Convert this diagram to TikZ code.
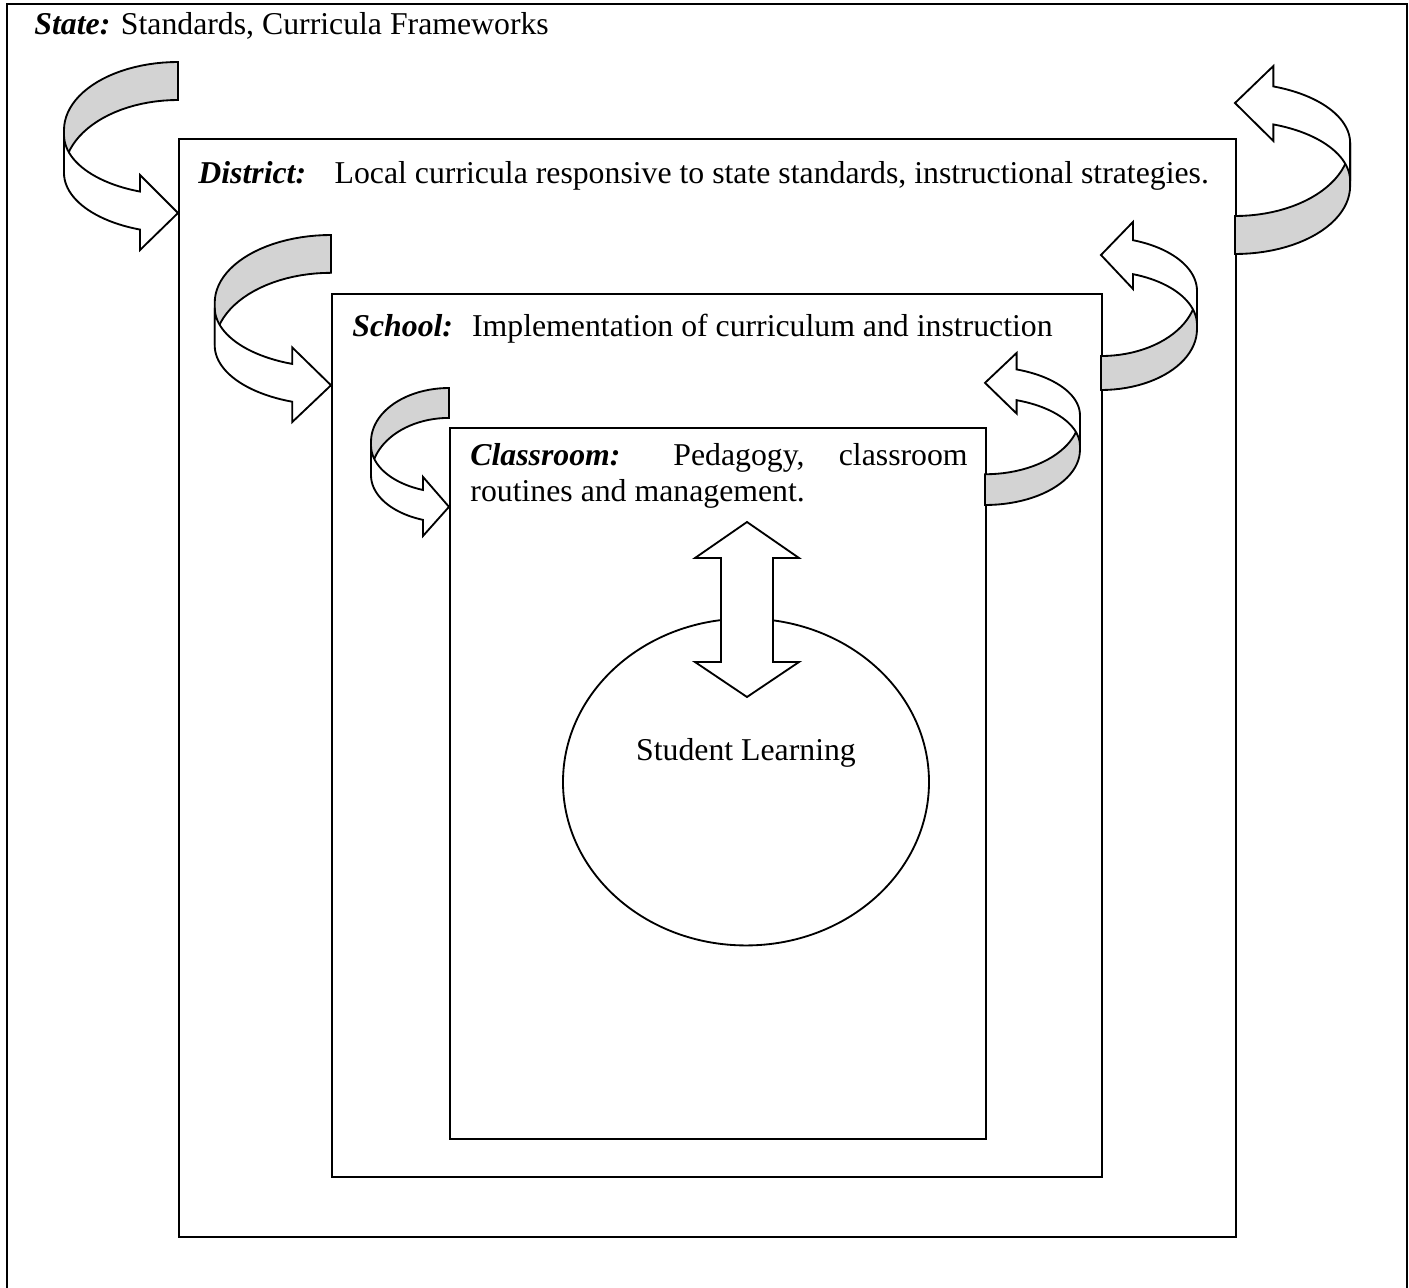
\documentclass[tikz,border=0pt]{standalone}
\usepackage{fontspec}
\setmainfont{Liberation Serif}
\usepackage{tikz}
\usetikzlibrary{shapes.geometric,positioning}
\definecolor{ribbongray}{HTML}{D3D3D3}

% curved ribbon arrow: #1 shift, #2 xscale, #3 yscale
\newcommand{\ribbonarrow}[3]{%
  \begin{scope}[shift={#1}, xscale=#2, yscale=#3]
    % back side of the ribbon
    \filldraw[ribbon, fill=ribbongray] (0,0)
      -- plot[domain=0:90] ({-114*sin(\x)}, {68-68*cos(\x)})
      -- (-114,111)
      -- plot[domain=0:90] ({-114*cos(\x)}, {111-73*sin(\x)})
      -- cycle;
    % front side with the head
    \filldraw[ribbon, fill=white] (-114,73)
      -- plot[domain=0:70.53] ({-114*cos(\x)}, {73+60*sin(\x)})
      -- (-38,113) -- (0,151) -- (-38,188)
      -- plot[domain=70.53:0] ({-114*cos(\x)}, {111+60*sin(\x)})
      -- cycle;
  \end{scope}}

\begin{document}
\begin{tikzpicture}[
  x=0.4344pt, y=-0.4344pt,
  levelbox/.style={draw, line width=0.8pt, anchor=north west, inner sep=0pt},
  ribbon/.style={draw=black, line width=0.8pt},
  lbl/.style={font=\fontsize{13.8pt}{15.6pt}\selectfont, inner sep=0pt, anchor=base west}
]
\useasboundingbox (0,0) rectangle (1409,1288);
% outer frame (state)
\draw[line width=1.1pt] (7,1290) -- (7,4) -- (1407,4) -- (1407,1290);
\node[lbl] (statelbl) at (34,35) {\textbf{\textit{State:}} Standards, Curricula Frameworks};

% nested levels
\node[levelbox, minimum width=459.2pt, minimum height=477pt] (district) at (178,138) {};
\node[levelbox, minimum width=334.5pt, minimum height=383.6pt] (school) at (331,293) {};
\node[levelbox, minimum width=232.8pt, minimum height=308.9pt] (classroom) at (449,427) {};

\node[lbl] (districtlbl) at (198,183) {\textbf{\textit{District:}}\hspace{0.9em}Local curricula responsive to state standards, instructional strategies.};
\node[lbl] (schoollbl) at (352,336) {\textbf{\textit{School:}}\hspace{0.6em}Implementation of curriculum and instruction};
\node[lbl, anchor=north west, align=left] (classlbl) at (470,443)
  {\makebox[216pt][s]{\textbf{\textit{Classroom:}} Pedagogy, classroom}\\routines and management.};

% student learning
\node[ellipse, draw, line width=0.8pt, minimum width=159pt, minimum height=142pt, inner sep=0pt] (learning) at (746,782) {};
\node[lbl, anchor=base] (learninglbl) at (746,760) {Student Learning};

% two-way block arrow
\coordinate (uptip) at (747,522);
\coordinate (downtip) at (747,697);
\filldraw[ribbon, fill=white] (uptip) -- ++(52,36) -- ++(-26,0) -- ++(0,104) -- ++(26,0)
  -- (downtip) -- ++(-52,-35) -- ++(26,0) -- ++(0,-104) -- ++(-26,0) -- cycle;

% downward ribbons (left side)
\ribbonarrow{(178,62)}{1}{1}
\ribbonarrow{(331,235)}{1.02}{0.995}
\ribbonarrow{(449,388)}{0.684}{0.787}
% upward ribbons (right side)
\ribbonarrow{(1235,254)}{-1.01}{-1}
\ribbonarrow{(1101,390)}{-0.842}{-0.894}
\ribbonarrow{(985,505)}{-0.833}{-0.809}
\end{tikzpicture}
\end{document}
